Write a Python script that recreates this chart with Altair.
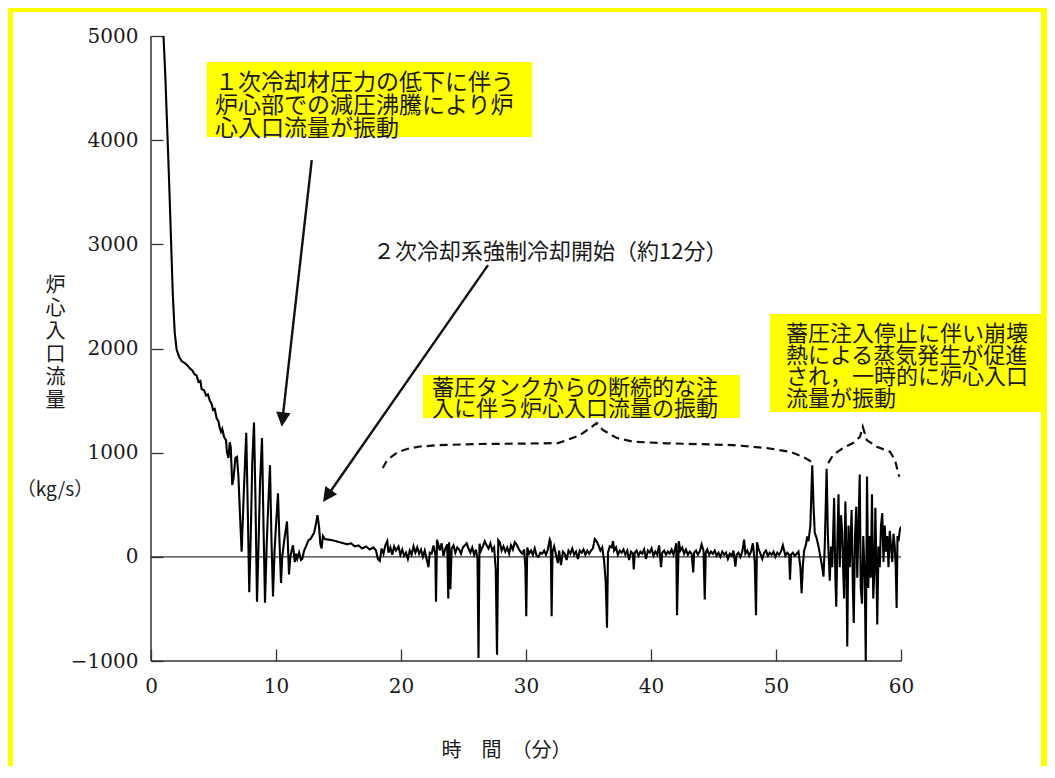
import altair as alt
import pandas as pd

# ---------------- data (time [min], core inlet flow [kg/s]) -------------
seg_decay = [
    (1.0, 5000), (1.15, 4600), (1.3, 4100), (1.45, 3600), (1.6, 3050), (1.75, 2500), (1.9, 2150),
    (2.05, 1990), (2.25, 1920), (2.45, 1880), (2.7, 1860), (2.9, 1840), (3.1, 1810), (3.3, 1790),
    (3.5, 1750), (3.65, 1740), (3.8, 1680), (3.95, 1690), (4.05, 1610), (4.25, 1600), (4.4, 1550),
    (4.55, 1560), (4.7, 1500), (4.85, 1470), (4.96, 1410), (5.1, 1420), (5.25, 1330), (5.4, 1300),
    (5.5, 1235), (5.6, 1200), (5.7, 1230), (5.85, 1150), (6.0, 1120), (6.08, 1000), (6.2, 950),
    (6.3, 1100), (6.38, 1050), (6.5, 690), (6.6, 750), (6.75, 950), (6.88, 960), (7.0, 760),
    (7.12, 400),
]
seg_boiling = [
    (7.25, 50), (7.45, 700), (7.62, 1190), (7.75, 400), (7.86, -340), (7.98, 200), (8.1, 900),
    (8.24, 1290), (8.35, 600), (8.48, -430), (8.6, 100), (8.72, 700), (8.88, 1140), (9.0, 300),
    (9.12, -440), (9.25, 100), (9.38, 500), (9.52, 880), (9.63, 200), (9.76, -380), (9.88, 50),
    (10.0, 300), (10.16, 610), (10.28, 150), (10.4, -250), (10.5, 0), (10.65, 150), (10.88, 340),
    (10.96, 100), (11.04, -170), (11.15, 0), (11.25, 60), (11.36, 110), (11.5, -50), (11.6, 30),
    (11.7, -20), (11.85, 40), (12.0, -30), (12.1, -20), (12.25, 60), (12.4, 100), (12.6, 160),
    (12.75, 170), (12.9, 200), (13.05, 230), (13.2, 320), (13.32, 400), (13.45, 280), (13.55, 120),
    (13.65, 80), (13.75, 200), (13.9, 170), (14.2, 165), (14.5, 160), (14.8, 150), (15.1, 140),
    (15.4, 130), (15.7, 120), (16.0, 130), (16.3, 100), (16.6, 110), (16.9, 80), (17.2, 100),
    (17.5, 70), (17.8, 90),
]
seg_injection_a = [
    (18.0, 60), (18.15, -20), (18.3, -40), (18.45, 80), (18.6, 30), (18.75, 110), (18.9, 150),
    (19.0, 40), (19.15, 90), (19.3, 20), (19.45, 100), (19.6, 60), (19.8, 100), (19.95, 20),
    (20.1, 70), (20.25, 10), (20.4, 40), (20.55, -20), (20.7, 60), (20.85, 20), (21.0, 100),
    (21.15, 40), (21.3, 90), (21.45, 30), (21.6, 70), (21.75, 0), (21.9, 60), (22.05, -20),
    (22.2, -100), (22.3, 40), (22.45, 30), (22.6, 110), (22.75, 20), (22.8, -430), (22.88, 165),
    (22.98, 120), (23.1, 60), (23.25, 130), (23.4, 10), (23.55, 80), (23.7, 120), (23.78, -400),
    (23.85, 140), (23.95, -310), (24.05, 80), (24.2, 110), (24.35, 40), (24.5, 90), (24.65, 70),
    (24.8, 30), (24.95, 90), (25.1, 110), (25.25, 130), (25.4, 80), (25.55, 40), (25.7, 90),
    (25.85, 20), (26.0, 70), (26.12, -20), (26.2, -970), (26.28, 125), (26.4, 60), (26.55, 100),
    (26.7, 150), (26.85, 110), (27.0, 80), (27.15, 130), (27.3, 60), (27.45, 90), (27.58, -120),
    (27.68, -940), (27.78, 160), (27.9, 140), (28.05, 60), (28.2, 100), (28.35, 50), (28.5, 90),
    (28.65, 30), (28.8, 110), (28.95, 70), (29.1, 140), (29.25, 120), (29.4, 80), (29.55, 50),
    (29.7, 30), (29.85, 70), (29.95, -100), (30.02, -570), (30.1, 90), (30.25, 30), (30.4, 60),
    (30.55, 20), (30.7, 80), (30.85, 10), (31.0, 0), (31.15, 40), (31.3, 30), (31.45, 60),
    (31.6, 20), (31.75, 70), (31.9, 165), (31.98, 140), (32.05, -570), (32.12, 50), (32.25, 100),
    (32.4, 20), (32.55, -60), (32.65, 60), (32.8, -80), (32.95, 50), (33.1, 30), (33.25, -30),
    (33.4, 60), (33.55, 30), (33.7, 80), (33.85, 20), (34.0, 50), (34.15, -20), (34.3, 60),
    (34.45, 40), (34.6, 70), (34.75, 20), (34.9, 60), (35.05, 30), (35.2, 60), (35.35, 80),
]
seg_injection_b = [
    (35.5, 170), (35.65, 150), (35.8, 110), (35.95, 60), (36.1, 90), (36.25, -40), (36.38, -250),
    (36.48, -680), (36.56, 40), (36.7, 100), (36.85, 90), (36.96, 150), (37.05, 60), (37.2, 90),
    (37.35, 20), (37.5, 60), (37.65, 40), (37.8, 70), (37.95, 20), (38.1, 60), (38.25, -30),
    (38.4, 50), (38.55, 30), (38.62, -120), (38.7, 40), (38.85, 60), (39.0, 10), (39.15, 50),
    (39.3, 30), (39.45, 70), (39.6, -20), (39.75, 60), (39.9, 40), (40.05, 80), (40.2, 10),
    (40.35, 50), (40.5, 20), (40.65, 110), (40.8, -100), (40.9, 40), (41.05, 60), (41.2, 20),
    (41.35, 50), (41.5, 30), (41.65, 70), (41.8, 20), (41.95, 90), (42.02, 130), (42.08, -560),
    (42.15, -200), (42.22, 150), (42.35, 60), (42.5, 90), (42.65, 30), (42.8, 70), (42.95, 20),
    (43.1, 50), (43.25, 30), (43.38, -150), (43.45, 40), (43.6, 60), (43.75, 20), (43.9, 50),
    (44.05, 120), (44.2, 60), (44.3, -410), (44.38, 40), (44.5, 70), (44.65, 20), (44.8, 50),
    (44.95, 30), (45.1, 60), (45.25, 10), (45.4, 40), (45.55, 0), (45.7, 50), (45.85, 20),
    (46.0, 40), (46.15, -20), (46.3, 30), (46.45, 10), (46.6, 60), (46.75, -95), (46.85, 20),
    (47.0, 40), (47.15, 0), (47.3, 50), (47.45, 165), (47.55, 30), (47.7, 60), (47.85, 10),
    (48.0, 50), (48.15, 130), (48.3, -50), (48.4, -560), (48.48, 140), (48.6, 80), (48.75, 30),
    (48.9, -20), (49.05, 40), (49.2, 60), (49.35, 10), (49.5, 40), (49.65, 20), (49.8, 50),
    (49.95, 0), (50.1, 40), (50.25, 20), (50.4, 50), (50.55, 110), (50.65, 60), (50.75, 10),
    (50.9, 40), (51.05, 20), (51.12, -220), (51.2, 20), (51.35, 40), (51.5, 10), (51.65, 30),
    (51.8, 50), (51.95, -100), (52.05, -350), (52.15, -80), (52.25, 60), (52.4, 120), (52.5, 195),
    (52.6, 150), (52.75, 300),
]
seg_decay_heat = [
    (52.9, 880), (53.0, 500), (53.1, 230), (53.25, 180), (53.4, 100), (53.55, 0), (53.7, -100),
    (53.8, -190), (53.9, 100), (54.05, 845), (54.15, 200), (54.3, -230), (54.4, 100), (54.5, -100),
    (54.65, 565), (54.75, -200), (54.82, -480), (54.92, 200), (55.0, 600), (55.1, -100),
    (55.2, 400), (55.3, 230), (55.38, -150), (55.45, -400), (55.55, 530), (55.62, 100),
    (55.7, -860), (55.8, 300), (55.9, -100), (56.05, 450), (56.15, -300), (56.22, -635),
    (56.32, 200), (56.42, 480), (56.5, -200), (56.6, 300), (56.7, 790), (56.78, -300),
    (56.88, -450), (56.98, 200), (57.1, -200), (57.18, -1000), (57.28, 770), (57.38, -300),
    (57.48, 200), (57.58, -200), (57.68, 600), (57.78, -400), (57.88, -100), (57.95, 470),
    (58.02, 0), (58.1, -650), (58.2, 100), (58.3, -100), (58.4, 300), (58.5, 420), (58.6, -50),
    (58.7, 300), (58.8, 50), (58.9, 200), (59.0, -100), (59.1, 250), (59.2, 100), (59.3, -50),
    (59.4, 220), (59.5, 100), (59.58, -100), (59.65, -490), (59.72, 200), (59.8, 150),
    (59.9, 250), (60.0, 290),
]

x_ticks = [0, 10, 20, 30, 40, 50, 60]
y_ticks = [-1000, 0, 1000, 2000, 3000, 4000, 5000]
x_title = "時　間　（分）"
y_title = ["炉", "心", "入", "口", "流", "量"]
y_unit = "（kg/s）"

# ---------------- annotations (placed in data units) ----------------
note1_lines = ["１次冷却材圧力の低下に伴う", "炉心部での減圧沸騰により炉", "心入口流量が振動"]
note2_text = "２次冷却系強制冷却開始（約12分）"
note3_lines = ["蓄圧タンクからの断続的な注", "入に伴う炉心入口流量の振動"]
note4_lines = ["蓄圧注入停止に伴い崩壊", "熱による蒸気発生が促進", "され，一時的に炉心入口", "流量が振動"]

boxes = pd.DataFrame({
    "t": [4.45, 21.76, 49.52], "t2": [30.5, 47.12, 71.9],
    "v": [4750, 1745, 2331], "v2": [4030, 1332, 1390],
})
arrows = pd.DataFrame({
    "t": [12.86, 26.96], "v": [3809, 2801],
    "t2": [10.56, 14.31], "v2": [1363, 620],
})
heads = pd.DataFrame({"t": [10.46, 13.76], "v": [1249, 526], "ang": [186.4, 214.8]})
brace1 = [(18.54, 852), (18.8, 910), (19.2, 958), (19.76, 1006), (20.48, 1035), (21.52, 1059),
          (23.12, 1073), (26.32, 1083), (30.32, 1088), (32.56, 1092), (33.28, 1121), (34.32, 1169),
          (35.12, 1236), (35.66, 1284), (36.16, 1217), (37.28, 1140), (38.56, 1105), (41.28, 1090),
          (46.56, 1073), (49.28, 1044), (51.12, 1009), (52.16, 961), (52.88, 910)]
brace2 = [(54.18, 900), (54.56, 977), (55.36, 1044), (56.16, 1092), (56.72, 1153), (56.94, 1249),
          (57.26, 1121), (58.06, 1057), (59.12, 1009), (59.52, 929), (59.86, 769)]

# ---------------- build ----------------
series = seg_decay + seg_boiling + seg_injection_a + seg_injection_b + seg_decay_heat
df = pd.DataFrame(series, columns=["t", "v"])
df["i"] = range(len(df))

br = pd.DataFrame(
    [(a, b, "b1", k) for k, (a, b) in enumerate(brace1)] +
    [(a, b, "b2", k) for k, (a, b) in enumerate(brace2)],
    columns=["t", "v", "id", "k"],
)

FONT_JP = "Noto Sans CJK JP"
FONT_NUM = "DejaVu Serif"
INK = "#1a1a1a"

xs = alt.Scale(domain=[0, 60], nice=False, zero=False)
ys = alt.Scale(domain=[-1000, 5000], nice=False, zero=False)

x_axis = alt.Axis(
    values=x_ticks, format="d", offset=-12, domain=False, tickSize=12, tickWidth=1.3,
    tickColor="#333", labelFont=FONT_NUM, labelFontSize=20, labelColor=INK, labelPadding=15,
    labelFlush=False, grid=False, title=x_title, titleFont=FONT_JP, titleFontSize=20,
    titleFontWeight="normal", titleColor=INK, titleX=355, titleY=101, titleBaseline="middle",
    titleAlign="center",
)
y_axis = alt.Axis(
    values=y_ticks, format="d", offset=-12, domain=False, tickSize=12, tickWidth=1.3,
    tickColor="#333", labelFont=FONT_NUM, labelFontSize=20, labelColor=INK, labelPadding=13,
    labelFlush=False, grid=False, title=y_title, titleFont=FONT_JP, titleFontSize=20,
    titleFontWeight="normal", titleColor=INK, titleAngle=0, titleX=-108, titleY=239,
    titleBaseline="top", titleAlign="center", titleLineHeight=23,
)


def X(field="t:Q"):
    return alt.X(field, scale=xs, axis=x_axis)


def Y(field="v:Q"):
    return alt.Y(field, scale=ys, axis=y_axis)


one = pd.DataFrame({"a": [0]})

frame = alt.Chart(one).mark_rect(fillOpacity=0, stroke="#ffff00", strokeWidth=6).encode(
    x=alt.value(-141), x2=alt.value(893), y=alt.value(-27), y2=alt.value(780)
)

box_layer = alt.Chart(boxes).mark_rect(color="#ffff00").encode(
    x=X(), x2="t2", y=Y(), y2="v2"
)

axis_lines = alt.Chart(pd.DataFrame({
    "t": [0, 0, 0], "t2": [0, 60, 60], "v": [-1000, -1000, 0], "v2": [5000, -1000, 0],
    "w": [1.5, 1.5, 1.1],
})).mark_rule(color="#333").encode(
    x=X(), x2="t2", y=Y(), y2="v2",
    strokeWidth=alt.StrokeWidth("w:Q", scale=None),
)

line = alt.Chart(df).mark_line(color="#000", strokeWidth=2.1, clip=True).encode(
    x=X(), y=Y(), order="i:Q",
)

braces = alt.Chart(br).mark_line(color="#111", strokeWidth=2.2, strokeDash=[8, 5]).encode(
    x=X(), y=Y(), detail="id:N", order="k:Q",
)

arrow_lines = alt.Chart(arrows).mark_rule(color="#111", strokeWidth=2.4).encode(
    x=X(), x2="t2", y=Y(), y2="v2",
)

arrow_heads = alt.Chart(heads).mark_point(
    shape="M0,0L-0.9,1.8L0.9,1.8Z", filled=True, size=256, color="#111", opacity=1
).encode(
    x=X(), y=Y(), angle=alt.Angle("ang:Q", scale=None),
)


def note(t, v, lines, fs, lh, baseline="top", align="left", font=FONT_JP):
    d = pd.DataFrame({"t": [t], "v": [v], "lines": [lines]})
    return alt.Chart(d).mark_text(
        align=align, baseline=baseline, font=font, fontSize=fs, lineHeight=lh, color=INK
    ).encode(x=X(), y=Y(), text="lines:N")


note1 = note(5.12, 4658, note1_lines, 23, 23)
note2 = note(17.76, 2926, note2_text, 22, 22, baseline="middle")
note3 = note(22.48, 1716, note3_lines, 22, 21)
note4 = note(50.8, 2235, note4_lines, 22, 21.7)
unit = note(-7.68, 641, y_unit, 19, 19, baseline="middle", align="center")

chart = alt.layer(
    frame, box_layer, axis_lines, line, braces, arrow_lines, arrow_heads,
    note1, note2, note3, note4, unit,
).properties(
    width=750, height=625,
    autosize=alt.AutoSizeParams(type="none"),
    padding={"left": 143, "top": 28, "right": 146, "bottom": 105},
    background="white",
).configure_view(stroke=None)

chart.save("out.html", embed_options={"renderer": "svg", "actions": False})
